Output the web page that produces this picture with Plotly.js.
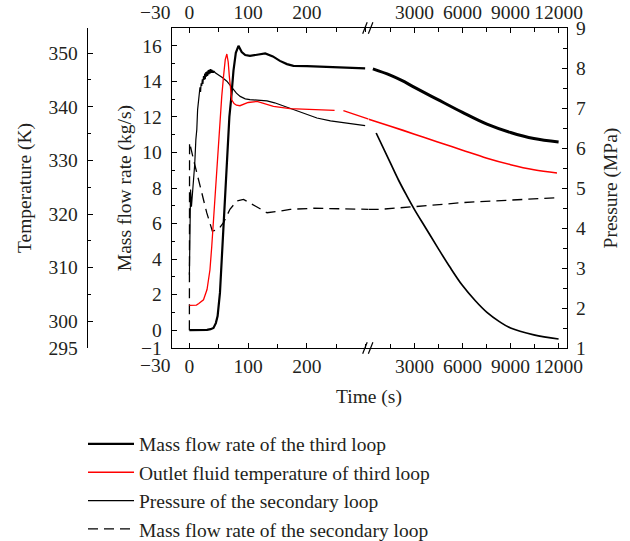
<!DOCTYPE html>
<html>
<head>
<meta charset="utf-8">
<script src="https://cdn.plot.ly/plotly-3.0.1.min.js"></script>
<style>html,body{margin:0;padding:0;background:#fff;}</style>
</head>
<body>
<div id="chart" style="width:630px;height:541px;"></div>
<script>
// ---------- DATA ----------
const seriesNames = [
  "Mass flow rate of the third loop",
  "Outlet fluid temperature of third loop",
  "Pressure of the secondary loop",
  "Mass flow rate of the secondary loop"
];

// Mass flow rate of the third loop (kg/s) - early period (s)
const thirdFlowT1 = [0, 10, 20, 30, 36, 41, 45, 48, 52, 55, 60, 65, 68, 71, 75, 79, 83.5, 89, 95, 103, 115, 129, 142, 154, 166, 177, 200, 230, 257, 280, 299];
const thirdFlowV1 = [0, 0, 0, 0.02, 0.06, 0.13, 0.4, 0.8, 2.1, 4.0, 7.2, 10.3, 12.0, 13.0, 14.6, 15.6, 16.0, 15.65, 15.48, 15.43, 15.5, 15.57, 15.4, 15.15, 14.97, 14.87, 14.86, 14.82, 14.78, 14.75, 14.73];
// long-term period (s)
const thirdFlowT2 = [400, 1481, 2200, 3000, 4400, 6000, 7525, 9000, 10456, 12000];
const thirdFlowV2 = [14.7, 14.35, 14.05, 13.66, 13.0, 12.25, 11.59, 11.12, 10.78, 10.59];

// Outlet fluid temperature of third loop (K)
const tempT1 = [0, 8, 12, 16, 20, 24, 30, 35, 38, 41, 44, 47, 50, 52, 55, 58, 61, 63.7, 66, 68, 70, 72, 76, 80, 86, 100, 115, 130, 143, 171, 211, 247, null, 262, 285, 305];
const tempV1 = [302.95, 302.95, 303.0, 303.3, 303.7, 304.0, 305.9, 309.6, 313.9, 318.9, 323.2, 329.2, 334.8, 337.6, 341.9, 345.6, 348.8, 349.85, 348.4, 345.6, 343.2, 341.3, 340.6, 340.3, 340.2, 340.8, 341.0, 340.5, 340.07, 339.65, 339.46, 339.33, null, 339.27, 338.5, 337.7];
const tempT2 = [138, 1500, 3000, 4400, 6000, 7525, 9000, 10456, 11900];
const tempV2 = [337.69, 336.38, 334.89, 333.49, 331.9, 330.41, 329.2, 328.26, 327.65];

// Pressure of the secondary loop (MPa)
const presT1 = [0, 0.7, 2, 3.5, 5, 7, 9, 11, 12.6, 14, 15.5, 17, 18, 19, 20, 21, 22, 23, 24, 25, 26, 27, 28, 29, 30, 31, 32, 33, 34, 35, 36, 37, 38, 39, 40, 41, 42, 44, 49.6, 56, 63.7, 70, 75, 80, 86.4, 95, 103, 115, 132, 145, 154.5, 170, 183, 200, 217, 240, 257, 280, 299];
const presV1 = [2.83, 4.71, 4.96, 4.53, 4.83, 5.08, 5.58, 6.21, 6.46, 6.96, 7.21, 7.30, 7.52, 7.40, 7.62, 7.55, 7.72, 7.60, 7.80, 7.70, 7.86, 7.72, 7.90, 7.78, 7.92, 7.80, 7.95, 7.84, 7.96, 7.86, 7.97, 7.88, 7.96, 7.88, 7.94, 7.88, 7.92, 7.88, 7.83, 7.76, 7.67, 7.56, 7.46, 7.37, 7.29, 7.23, 7.21, 7.2, 7.18, 7.13, 7.08, 7.0, 6.92, 6.83, 6.75, 6.68, 6.64, 6.6, 6.56];
const presT2 = [606, 1500, 2000, 2500, 3000, 3700, 4400, 5200, 6000, 6800, 7525, 8300, 9000, 10456, 12000];
const presV2 = [6.375, 5.62, 5.2, 4.82, 4.46, 4.0, 3.54, 3.03, 2.56, 2.18, 1.89, 1.66, 1.5, 1.33, 1.225];

// Mass flow rate of the secondary loop (kg/s)
const secFlowT1 = [0, 0.3, 7, 12.6, 21, 29.6, 39, 49.4, 58, 69, 80.7, 92, 112, 132, 154.5, 171.5, 211, 257, 305];
const secFlowV1 = [0, 10.56, 9.6, 8.87, 7.74, 6.6, 5.58, 5.67, 6.05, 6.8, 7.27, 7.36, 6.99, 6.61, 6.7, 6.8, 6.86, 6.84, 6.8];
const secFlowT2 = [138, 856, 3000, 6000, 9000, 12000];
const secFlowV2 = [6.8, 6.8, 6.95, 7.18, 7.32, 7.46];

// Tick labels
const timeTicks1 = [-30, 0, 100, 200];
const timeTicks2 = [3000, 6000, 9000, 12000];
const flowTicks = [-1, 0, 2, 4, 6, 8, 10, 12, 14, 16];
const tempTicks = [295, 300, 310, 320, 330, 340, 350];
const presTicks = [1, 2, 3, 4, 5, 6, 7, 8, 9];

// ---------- GEOMETRY (pixels) ----------
const W = 630, H = 541;
const mL = 80, mR = 63.3, mT = 28.3, mB = 192.7;
const plotW = W - mL - mR, plotH = H - mT - mB;
const px2x = p => (p - mL) / plotW;
const py2y = p => (H - mB - p) / plotH;
const axL = 171.7, axBreak = 368.5, axTemp = 86.7;

const FONT = 'Liberation Serif, "Times New Roman", serif';
const TXT = '#231f20';
const fs = 19.5;

const minus = s => String(s).replace('-', '\u2212');

const baseAxis = {
  showline: true, linecolor: 'black', linewidth: 1.3,
  ticks: 'inside', ticklen: 5, tickwidth: 1.1, tickcolor: 'black',
  showgrid: false, zeroline: false, tickmode: 'array',
  tickfont: {family: FONT, size: fs, color: TXT}
};

function seg(x, y, xa, ya, name, line, show, grp) {
  return {x: x, y: y, xaxis: xa, yaxis: ya, name: name, type: 'scatter', mode: 'lines',
    line: line, showlegend: show, legendgroup: grp, connectgaps: false, hoverinfo: 'x+y+name'};
}

const lThird1 = {color: 'black', width: 2.2};
const lThird2 = {color: 'black', width: 3, shape: 'spline', smoothing: 1};
const lTemp1 = {color: '#ff0000', width: 1.3};
const lTemp2 = {color: '#ff0000', width: 1.6, shape: 'spline', smoothing: 1};
const lPres1 = {color: 'black', width: 1.2};
const lPres2 = {color: 'black', width: 1.7, shape: 'spline', smoothing: 1};
const lSec = {color: 'black', width: 1.3, dash: '10px,6px'};

const data = [
  seg(thirdFlowT1, thirdFlowV1, 'x', 'y', seriesNames[0], lThird1, true, 'g1'),
  seg(thirdFlowT2, thirdFlowV2, 'x2', 'y', seriesNames[0], lThird2, false, 'g1'),
  seg(tempT1, tempV1, 'x', 'y3', seriesNames[1], lTemp1, true, 'g2'),
  seg(tempT2, tempV2, 'x2', 'y3', seriesNames[1], lTemp2, false, 'g2'),
  seg(presT1, presV1, 'x', 'y2', seriesNames[2], lPres1, true, 'g3'),
  seg(presT2, presV2, 'x2', 'y2', seriesNames[2], lPres2, false, 'g3'),
  seg(secFlowT1, secFlowV1, 'x', 'y', seriesNames[3], lSec, true, 'g4'),
  seg(secFlowT2, secFlowV2, 'x2', 'y', seriesNames[3], lSec, false, 'g4'),
  {x: [], y: [], xaxis: 'x3', yaxis: 'y', showlegend: false, type: 'scatter', mode: 'lines', hoverinfo: 'skip'},
  {x: [], y: [], xaxis: 'x4', yaxis: 'y', showlegend: false, type: 'scatter', mode: 'lines', hoverinfo: 'skip'}
];

const d0 = px2x(axL), d1 = px2x(axBreak);
const x1Range = [-30, 305];
const x2Range = [138, 12525];
// the -30 label sits right-aligned at the axis corner (drawn as annotation below)
const t1Text = timeTicks1.map(v => v < 0 ? '' : String(v));

const minorX1 = {ticks: 'inside', ticklen: 4, tickwidth: 1.1, tickcolor: 'black', tickmode: 'linear', tick0: 0, dtick: 50};
const minorX2 = {ticks: 'inside', ticklen: 4, tickwidth: 1.1, tickcolor: 'black', tickmode: 'linear', tick0: 0, dtick: 1500};

const cornerLabel = (py) => ({
  text: minus(timeTicks1[0]), xref: 'paper', yref: 'paper', x: px2x(axL + 1), y: py2y(py),
  xanchor: 'right', yanchor: 'middle', showarrow: false, font: {family: FONT, size: fs, color: TXT}
});

const layout = {
  width: W, height: H,
  margin: {l: mL, r: mR, t: mT, b: mB, pad: 0, autoexpand: false},
  paper_bgcolor: 'white', plot_bgcolor: 'rgba(0,0,0,0)',
  font: {family: FONT, size: fs, color: TXT},
  showlegend: true,
  legend: {x: px2x(83), y: py2y(425), xanchor: 'left', yanchor: 'top',
    font: {family: FONT, size: fs, color: TXT}, bgcolor: 'rgba(0,0,0,0)',
    tracegroupgap: 0, itemwidth: 46, traceorder: 'grouped'},
  xaxis: Object.assign({}, baseAxis, {
    domain: [d0, d1], range: x1Range, anchor: 'y', tickangle: 0,
    tickvals: timeTicks1, ticktext: t1Text, minor: minorX1
  }),
  xaxis2: Object.assign({}, baseAxis, {
    domain: [d1, 1], range: x2Range, anchor: 'y', tickangle: 0,
    tickvals: timeTicks2, ticktext: timeTicks2.map(String), minor: minorX2
  }),
  xaxis3: Object.assign({}, baseAxis, {
    overlaying: 'x', side: 'top', anchor: 'y', range: x1Range, tickangle: 0,
    tickvals: timeTicks1, ticktext: t1Text, minor: minorX1
  }),
  xaxis4: Object.assign({}, baseAxis, {
    overlaying: 'x2', side: 'top', anchor: 'y', range: x2Range, tickangle: 0,
    tickvals: timeTicks2, ticktext: timeTicks2.map(String), minor: minorX2
  }),
  yaxis: Object.assign({}, baseAxis, {
    domain: [0, 1], range: [-1, 17], anchor: 'x', side: 'left', ticklabelstandoff: 5,
    tickvals: flowTicks, ticktext: flowTicks.map(minus),
    minor: {ticks: 'inside', ticklen: 3.5, tickwidth: 1.1, tickcolor: 'black', tickmode: 'linear', tick0: 0, dtick: 1},
    title: {text: 'Mass flow rate (kg/s)', font: {family: FONT, size: fs, color: TXT}, standoff: 4}
  }),
  yaxis2: Object.assign({}, baseAxis, {
    overlaying: 'y', range: [1, 9], anchor: 'x2', side: 'right', ticklabelstandoff: 4,
    tickvals: presTicks, ticktext: presTicks.map(String),
    minor: {ticks: 'inside', ticklen: 3.5, tickwidth: 1.1, tickcolor: 'black', tickmode: 'linear', tick0: 0, dtick: 0.5},
    title: {text: 'Pressure (MPa)', font: {family: FONT, size: fs, color: TXT}, standoff: 18}
  }),
  yaxis3: Object.assign({}, baseAxis, {
    overlaying: 'y', range: [295, 354.7], anchor: 'free', position: px2x(axTemp), side: 'left', ticklabelstandoff: 5,
    tickvals: tempTicks, ticktext: tempTicks.map(String),
    minor: {ticks: 'inside', ticklen: 3.5, tickwidth: 1.1, tickcolor: 'black', tickmode: 'linear', tick0: 295, dtick: 5},
    title: {text: 'Temperature (K)', font: {family: FONT, size: fs, color: TXT}, standoff: 10}
  }),
  annotations: [
    {text: 'Time (s)', xref: 'paper', yref: 'paper', x: px2x(369), y: py2y(397),
     xanchor: 'center', yanchor: 'middle', showarrow: false, font: {family: FONT, size: fs, color: TXT}},
    cornerLabel(13),
    cornerLabel(366)
  ],
  shapes: [
    {type: 'line', xref: 'paper', yref: 'paper', x0: px2x(362.5), y0: py2y(34), x1: px2x(367), y1: py2y(22.5), line: {color: 'black', width: 1.2}},
    {type: 'line', xref: 'paper', yref: 'paper', x0: px2x(368.2), y0: py2y(34), x1: px2x(372.7), y1: py2y(22.5), line: {color: 'black', width: 1.2}},
    {type: 'line', xref: 'paper', yref: 'paper', x0: px2x(362.5), y0: py2y(354), x1: px2x(367), y1: py2y(342.5), line: {color: 'black', width: 1.2}},
    {type: 'line', xref: 'paper', yref: 'paper', x0: px2x(368.2), y0: py2y(354), x1: px2x(372.7), y1: py2y(342.5), line: {color: 'black', width: 1.2}}
  ]
};

Plotly.newPlot('chart', data, layout, {displayModeBar: false});
</script>
</body>
</html>
